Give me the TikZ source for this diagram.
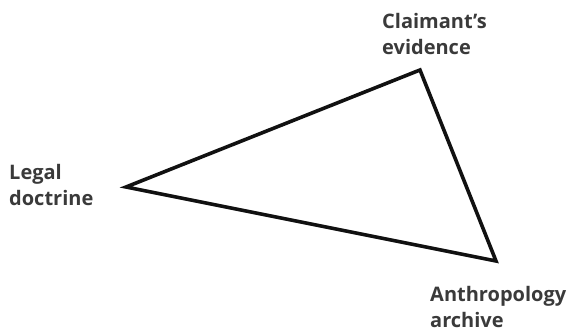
\documentclass[tikz,border=0pt]{standalone}
\usepackage{fontspec}
\setmainfont{Open Sans}
\usepackage{xcolor}
\usetikzlibrary{positioning}
\definecolor{labelgray}{RGB}{58,58,58}
\definecolor{edgeblack}{RGB}{17,17,17}

\begin{document}
\begin{tikzpicture}[
    x=1pt, y=1pt,
    every node/.style={font=\fontsize{20}{26}\selectfont\bfseries},
    cornerlabel/.style={
        align=left,
        inner sep=0pt,
        text=labelgray
    },
    edge/.style={line width=3.6pt, draw=edgeblack, line join=miter}
]

\useasboundingbox (0,0) rectangle (571,331);

% corners of the triangle
\coordinate (doctrine) at (126,144);
\coordinate (evidence) at (420,261);
\coordinate (archive) at (496,70);

\draw[edge] (doctrine) -- (evidence) -- (archive) -- cycle;

% labels
\node[cornerlabel, anchor=north west] (evidencelabel) at (382,318) {Claimant's\\evidence};
\node[cornerlabel, anchor=north west] (doctrinelabel) at (9,167) {Legal\\doctrine};
\node[cornerlabel, anchor=north west] (archivelabel) at (430,45) {Anthropology\\archive};

\end{tikzpicture}
\end{document}
